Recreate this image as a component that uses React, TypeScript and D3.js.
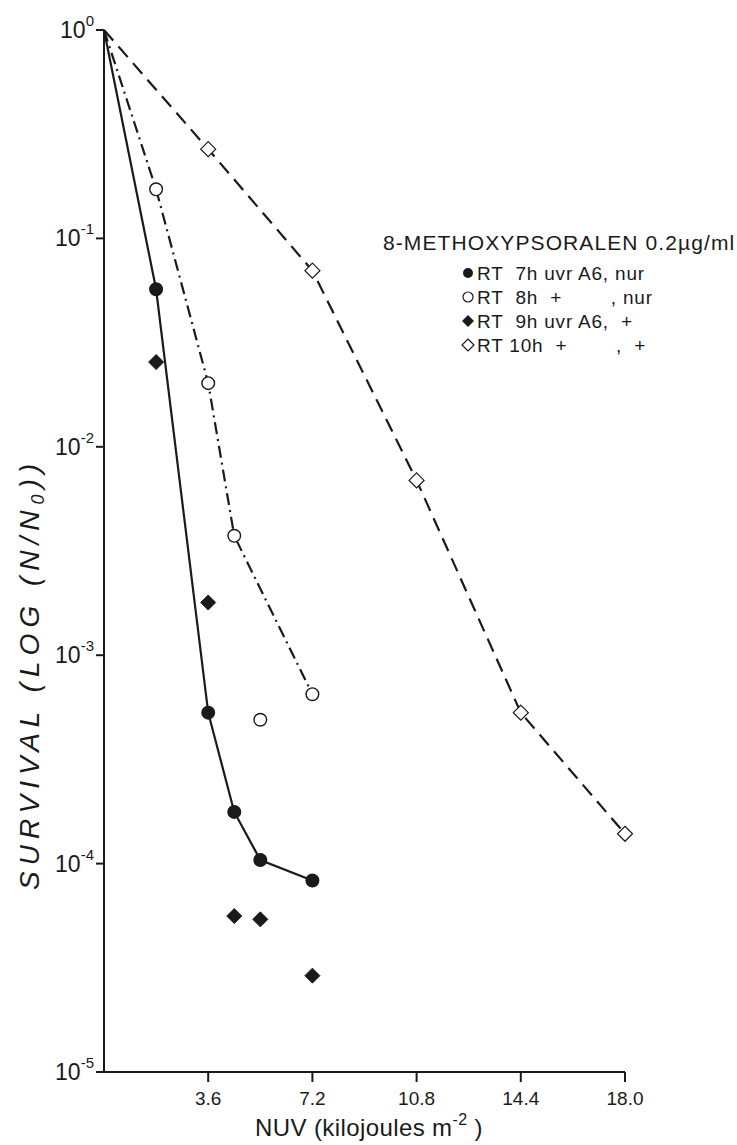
import React from 'react'
import { useEffect, useRef } from 'react'
import * as d3 from 'd3'

// NUV dose (kJ m^-2) and surviving fraction
const rt7hDose = [0, 1.8, 3.6, 4.5, 5.4, 7.2]
const rt7hSurv = [1, 0.057, 5.3e-4, 1.77e-4, 1.04e-4, 8.3e-5]

const rt8hDose = [0, 1.8, 3.6, 4.5, 7.2]
const rt8hSurv = [1, 0.172, 0.0202, 3.74e-3, 6.5e-4]
const rt8hExtraDose = [5.4]
const rt8hExtraSurv = [4.9e-4]

const rt9hDose = [1.8, 3.6, 4.5, 5.4, 7.2]
const rt9hSurv = [0.0255, 1.79e-3, 5.6e-5, 5.4e-5, 2.9e-5]

const rt10hDose = [0, 3.6, 7.2, 10.8, 14.4, 18.0]
const rt10hSurv = [1, 0.268, 0.07, 6.9e-3, 5.3e-4, 1.39e-4]

const xTicks = [3.6, 7.2, 10.8, 14.4, 18.0]
const yExponents = [0, -1, -2, -3, -4, -5]

const legendTitle = '8-METHOXYPSORALEN 0.2\u00b5g/ml'
const legendLabels = [
  'RT  7h uvr A6, nur',
  'RT  8h  +        , nur',
  'RT  9h uvr A6,  +',
  'RT 10h  +        ,  +',
]

const font = '"Liberation Sans", Arial, sans-serif'

export default function App() {
  const ref = useRef<SVGSVGElement>(null)

  useEffect(() => {
    const width = 737
    const height = 1145
    const svg = d3.select(ref.current)
    svg.selectAll('*').remove()

    const x = d3.scaleLinear().domain([0, 18]).range([104, 625])
    const y = d3.scaleLog().domain([1e-5, 1]).range([1072, 30])
    const ink = '#1a1a1a'

    // axes
    svg.append('line')
      .attr('x1', x(0)).attr('x2', x(0))
      .attr('y1', y(1)).attr('y2', y(1e-5))
      .attr('stroke', ink).attr('stroke-width', 2)
    svg.append('line')
      .attr('x1', x(0) - 4).attr('x2', x(18))
      .attr('y1', y(1e-5)).attr('y2', y(1e-5))
      .attr('stroke', ink).attr('stroke-width', 2)

    svg.append('g').selectAll('line')
      .data(xTicks)
      .join('line')
      .attr('x1', d => x(d)).attr('x2', d => x(d))
      .attr('y1', y(1e-5)).attr('y2', y(1e-5) + 10)
      .attr('stroke', ink).attr('stroke-width', 2)

    svg.append('g').selectAll('text')
      .data(xTicks)
      .join('text')
      .attr('x', d => x(d))
      .attr('y', y(1e-5) + 33)
      .attr('text-anchor', 'middle')
      .attr('font-family', font)
      .attr('font-size', 19)
      .attr('fill', ink)
      .text(d => d.toFixed(1))

    svg.append('g').selectAll('line')
      .data(yExponents)
      .join('line')
      .attr('x1', x(0) - 8).attr('x2', x(0))
      .attr('y1', d => y(Math.pow(10, d))).attr('y2', d => y(Math.pow(10, d)))
      .attr('stroke', ink).attr('stroke-width', 2)

    const yl = svg.append('g').selectAll('text')
      .data(yExponents)
      .join('text')
      .attr('x', x(0) - 10)
      .attr('y', d => y(Math.pow(10, d)) + 8)
      .attr('text-anchor', 'end')
      .attr('font-family', font)
      .attr('font-size', 23)
      .attr('fill', ink)
    yl.append('tspan').text('10')
    yl.append('tspan')
      .attr('dy', -12)
      .attr('font-size', 15)
      .text(d => d === 0 ? '0' : String(d))

    // axis titles
    const xt = svg.append('text')
      .attr('x', 255).attr('y', 1136)
      .attr('font-family', font)
      .attr('font-size', 24)
      .attr('letter-spacing', 0.4)
      .attr('fill', ink)
    xt.append('tspan').text('NUV (kilojoules m')
    xt.append('tspan').attr('dy', -11).attr('font-size', 16).text('-2')
    xt.append('tspan').attr('dy', 11).text(' )')

    const yt = svg.append('text')
      .attr('transform', 'translate(39,890) rotate(-90)')
      .attr('font-family', font)
      .attr('font-style', 'italic')
      .attr('font-size', 28)
      .attr('letter-spacing', 6)
      .attr('fill', ink)
    yt.append('tspan').text('SURVIVAL (LOG (N/N')
    yt.append('tspan').attr('dy', 5).attr('font-size', 18).text('0')
    yt.append('tspan').attr('dy', -5).text('))')

    // lines
    const line = d3.line<[number, number]>()
      .x(d => x(d[0]))
      .y(d => y(d[1]))

    const series = [
      { dose: rt7hDose, surv: rt7hSurv, dash: null },
      { dose: rt8hDose, surv: rt8hSurv, dash: '12,5,2,5' },
      { dose: rt10hDose, surv: rt10hSurv, dash: '14,8' },
    ]
    series.forEach(s => {
      svg.append('path')
        .datum(d3.zip(s.dose, s.surv) as [number, number][])
        .attr('d', line)
        .attr('fill', 'none')
        .attr('stroke', ink)
        .attr('stroke-width', 2.2)
        .attr('stroke-dasharray', s.dash)
    })

    // markers
    const circle = (g: any, filled: boolean) => g
      .append('circle')
      .attr('r', 6.3)
      .attr('fill', filled ? ink : '#fff')
      .attr('stroke', ink)
      .attr('stroke-width', 1.4)
    const diamond = (g: any, filled: boolean) => g
      .append('path')
      .attr('d', 'M0,-7.5L7.5,0L0,7.5L-7.5,0Z')
      .attr('fill', filled ? ink : '#fff')
      .attr('stroke', ink)
      .attr('stroke-width', filled ? 1 : 1.2)

    const markers = (dose: number[], surv: number[], draw: (g: any) => void) => {
      const g = svg.append('g').selectAll('g')
        .data(d3.zip(dose, surv).filter(d => d[0] > 0))
        .join('g')
        .attr('transform', d => `translate(${x(d[0])},${y(d[1])})`)
      draw(g)
    }
    markers(rt7hDose, rt7hSurv, g => circle(g, true))
    markers(rt8hDose, rt8hSurv, g => circle(g, false))
    markers(rt8hExtraDose, rt8hExtraSurv, g => circle(g, false))
    markers(rt9hDose, rt9hSurv, g => diamond(g, true))
    markers(rt10hDose, rt10hSurv, g => diamond(g, false))

    // legend
    svg.append('text')
      .attr('x', 383).attr('y', 250)
      .attr('font-family', font)
      .attr('font-size', 21)
      .attr('letter-spacing', 1.1)
      .attr('fill', ink)
      .text(legendTitle)

    const leg = svg.append('g').selectAll('g')
      .data(legendLabels)
      .join('g')
      .attr('transform', (d, i) => `translate(468,${273 + i * 24})`)
    leg.each(function (d, i) {
      const g = d3.select(this)
      if (i === 0) g.append('circle').attr('r', 5).attr('fill', ink)
      if (i === 1) g.append('circle').attr('r', 5).attr('fill', '#fff').attr('stroke', ink).attr('stroke-width', 1.2)
      if (i === 2) g.append('path').attr('d', 'M0,-6L6,0L0,6L-6,0Z').attr('fill', ink)
      if (i === 3) g.append('path').attr('d', 'M0,-6L6,0L0,6L-6,0Z').attr('fill', '#fff').attr('stroke', ink).attr('stroke-width', 1.2)
    })
    leg.append('text')
      .attr('x', 9).attr('y', 6.5)
      .attr('font-family', font)
      .attr('font-size', 19)
      .attr('letter-spacing', 0.8)
      .attr('fill', ink)
      .attr('xml:space', 'preserve')
      .style('white-space', 'pre')
      .text(d => d)

    svg.attr('width', width).attr('height', height)
  }, [])

  return (
    <svg ref={ref} style={{ position: 'absolute', left: 0, top: 0, background: '#fff' }} />
  )
}
